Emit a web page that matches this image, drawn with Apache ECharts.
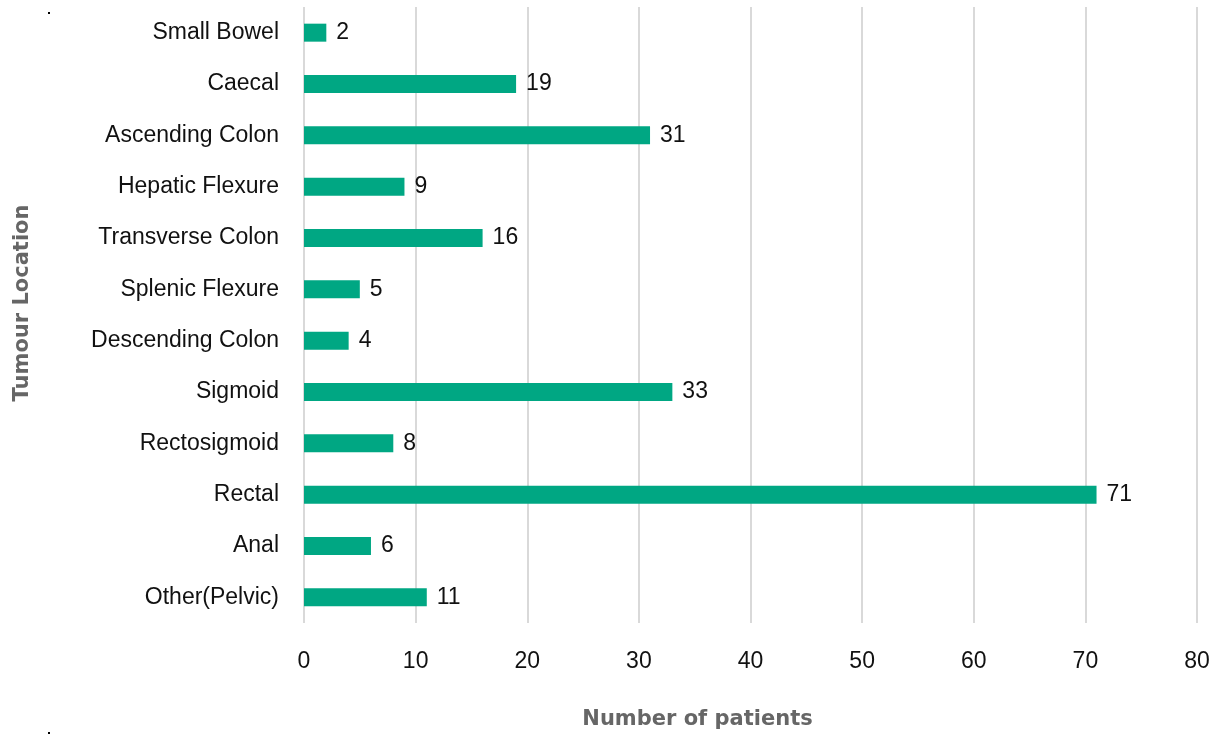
<!DOCTYPE html>
<html>
<head>
<meta charset="utf-8">
<script src="https://cdn.jsdelivr.net/npm/echarts@6/dist/echarts.min.js"></script>
<style>
  html, body { margin: 0; padding: 0; background: #fff; }
  #chart { width: 1221px; height: 740px; }
</style>
</head>
<body>
<div id="chart"></div>
<script>
// Tumour location counts, listed top to bottom
const locations = [
  'Small Bowel', 'Caecal', 'Ascending Colon', 'Hepatic Flexure',
  'Transverse Colon', 'Splenic Flexure', 'Descending Colon', 'Sigmoid',
  'Rectosigmoid', 'Rectal', 'Anal', 'Other(Pelvic)'
];
const patients = [2, 19, 31, 9, 16, 5, 4, 33, 8, 71, 6, 11];
const xTicks = { min: 0, max: 80, interval: 10 };

const FONT = 'Liberation Sans';
const TITLE_FONT = 'DejaVu Sans';

const chart = echarts.init(document.getElementById('chart'), null, { renderer: 'canvas' });
chart.setOption({
  animation: false,
  backgroundColor: '#ffffff',
  grid: { left: 304, right: 24, top: 7, bottom: 117, containLabel: false },
  xAxis: {
    type: 'value',
    min: xTicks.min, max: xTicks.max, interval: xTicks.interval,
    name: 'Number of patients',
    nameLocation: 'middle',
    nameGap: 86,
    nameTextStyle: {
      fontFamily: TITLE_FONT, fontSize: 21, fontWeight: 'bold', color: '#666666',
      padding: [0, 106, 0, 0]
    },
    axisLine: { show: false },
    axisTick: { show: false },
    axisLabel: { fontFamily: FONT, fontSize: 23, color: '#111', margin: 27 },
    splitLine: { show: true, lineStyle: { color: '#d9d9d9', width: 2 } }
  },
  yAxis: {
    type: 'category',
    data: locations,
    inverse: true,
    name: 'Tumour Location',
    nameLocation: 'middle',
    nameGap: 271,
    nameTextStyle: {
      fontFamily: TITLE_FONT, fontSize: 21, fontWeight: 'bold', color: '#666666',
      padding: [0, 0, 0, 24]
    },
    axisLine: { show: false },
    axisTick: { show: false },
    axisLabel: { fontFamily: FONT, fontSize: 23, color: '#111', margin: 25, padding: [4, 0, 0, 0] },
    splitLine: { show: false }
  },
  series: [{
    type: 'bar',
    data: patients,
    barWidth: 18,
    itemStyle: { color: '#00a783' },
    label: {
      show: true, position: 'right', distance: 10, padding: [4, 0, 0, 0],
      fontFamily: FONT, fontSize: 23, color: '#111'
    }
  }],
  graphic: [
    { type: 'rect', shape: { x: 48, y: 12, width: 2, height: 2 }, style: { fill: '#000' } },
    { type: 'rect', shape: { x: 48, y: 732, width: 2, height: 2 }, style: { fill: '#000' } }
  ]
});
</script>
</body>
</html>
